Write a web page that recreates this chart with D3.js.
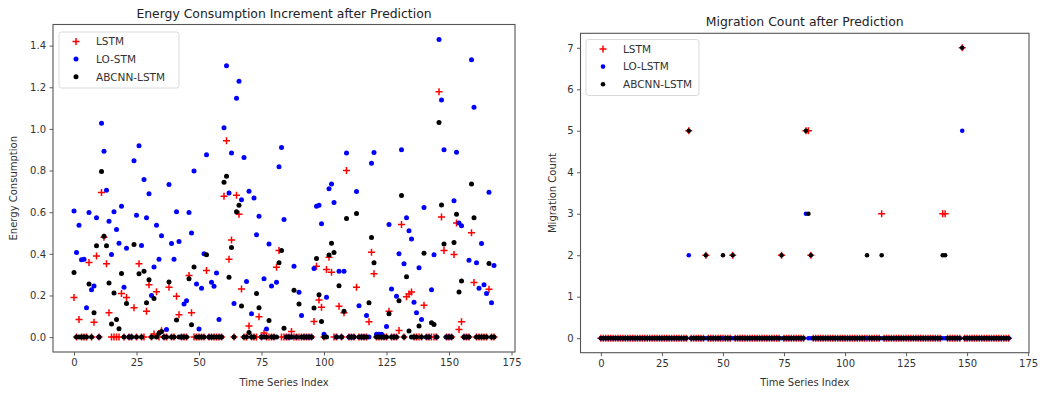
<!DOCTYPE html>
<html>
<head>
<meta charset="utf-8">
<script src="https://cdn.jsdelivr.net/npm/d3@7"></script>
<style>
  html, body { margin: 0; padding: 0; background: #fff; }
  svg { display: block; font-family: "DejaVu Sans", sans-serif; }
</style>
</head>
<body>
<svg id="chart" width="1056" height="395"></svg>
<script>
// ---------- DATA ----------
const energyLSTM = [
  0.19,0,0.085,0,0,0,0.358,0,0.071,0.389,
  0,0.694,0.48,0.352,0.117,0,0,0,0,0.21,
  0,0.19,0,0,0.141,0,0.352,0,0,0.124,
  0.252,0,0.015,0.218,0,0.03,0,0,0.24,0,
  0,0.196,0.108,0,0,0,0.296,0.117,0,0,
  0,0,0,0.32,0,0,0,0,0,0,
  0.676,0.943,0.374,0.467,0,0.681,0.59,0.231,0,0,
  0.053,0,0,0,0.098,0,0.02,0,0,0,
  0,0.336,0.416,0,0,0,0,0.027,0,0,
  0,0,0,0,0,0,0.075,0.34,0.178,0.143,
  0,0.325,0.384,0.312,0,0,0.148,0,0.117,0.8,
  0,0,0,0.24,0,0,0,0,0.074,0.408,
  0.304,0,0,0,0,0,0.124,0,0,0,
  0.032,0.541,0,0.194,0.207,0.217,0,0,0,0,
  0.153,0,0,0,0,0,1.178,0.577,0.416,0,
  0,0,0.397,0.548,0.037,0.074,0,0,0,0.501,
  0.262,0,0,0,0,0,0.23,0,0
];
const energyLOSTM = [
  0.606,0.406,0.537,0.371,0.374,0.141,0.598,0.228,0.246,0.573,
  0,1.027,0.893,0.705,0.556,0.397,0.602,0.517,0.451,0.628,
  0.239,0.427,0,0,0.847,0.585,0.919,0.44,0.757,0.573,
  0.689,0.2,0.337,0.537,0.374,0.487,0,0.037,0.733,0.45,
  0.374,0.602,0.459,0,0.159,0.175,0.598,0.5,0.798,0.255,
  0.039,0.235,0.4,0.876,0,0.263,0.244,0.308,0.085,0,
  1.006,1.303,0.692,0.884,0.162,1.147,1.229,0.66,0.863,0.267,
  0.7,0.112,0.668,0.492,0.58,0,0.28,0.039,0.447,0.246,
  0,0.263,0.818,0.911,0.565,0,0,0,0.34,0,
  0.215,0.104,0,0,0,0,0.329,0.628,0.633,0.545,
  0.014,0.191,0.712,0.736,0.647,0,0.316,0,0.316,0.884,
  0,0,0,0.699,0.151,0,0,0.104,0,0.835,
  0.887,0.014,0.014,0.014,0,0.051,0.541,0.231,0,0.196,
  0.4,0.9,0.352,0.573,0.511,0.471,0.167,0.117,0.333,0.085,
  0.623,0,0,0.228,0.395,0,1.43,1.139,0.9,0,
  0,0,0.655,0.888,0.548,0.535,0,0,0.369,1.332,
  1.104,0.357,0.235,0.45,0.252,0.21,0.696,0.165,0.344
];
const energyABCNN = [
  0.31,0,0,0,0,0,0.255,0,0.117,0.439,
  0,0.795,0.485,0.439,0.26,0.063,0.212,0.085,0.04,0.305,
  0,0.162,0,0,0.445,0,0.304,0,0.316,0.165,
  0.275,0,0.186,0,0.018,0.027,0,0,0.265,0,
  0,0.082,0,0,0,0,0.28,0.059,0.337,0,
  0,0,0,0.395,0,0,0,0,0,0,
  0.744,0.773,0.288,0.43,0,0.602,0.633,0.149,0,0,
  0.022,0,0,0.21,0.141,0,0,0,0.08,0,
  0,0,0.357,0.416,0.043,0,0,0,0.225,0,
  0.159,0,0,0,0,0,0.14,0.378,0.204,0.075,
  0,0,0.394,0.451,0.406,0,0.247,0,0.124,0.57,
  0,0,0,0.594,0,0,0,0,0.165,0.479,
  0.357,0,0,0,0,0,0.112,0,0,0,
  0.175,0.68,0,0.29,0.029,0,0,0,0.053,0,
  0.403,0,0,0.069,0.061,0,1.031,0.635,0.447,0,
  0,0,0.455,0.59,0.217,0.27,0,0,0,0.736,
  0.573,0,0,0,0,0,0.353,0,0
];

const migLSTM = [
  0,0,0,0,0,0,0,0,0,0,
  0,0,0,0,0,0,0,0,0,0,
  0,0,0,0,0,0,0,0,0,0,
  0,0,0,0,0,0,5,0,0,0,
  0,0,0,2,0,0,0,0,0,0,
  0,0,0,0,2,0,0,0,0,0,
  0,0,0,0,0,0,0,0,0,0,
  0,0,0,0,2,0,0,0,0,0,
  0,0,0,0,5,5,2,0,0,0,
  0,0,0,0,0,0,0,0,0,0,
  0,0,0,0,0,0,0,0,0,0,
  0,0,0,0,0,3,0,0,0,0,
  0,0,0,0,0,0,0,0,0,0,
  0,0,0,0,0,0,0,0,0,0,
  3,3,0,0,0,0,0,0,7,0,
  0,0,0,0,0,0,0,0,0,0,
  0,0,0,0,0,0,0,0
];
const migLOLSTM = [
  0,0,0,0,0,0,0,0,0,0,
  0,0,0,0,0,0,0,0,0,0,
  0,0,0,0,0,0,0,0,0,0,
  0,0,0,0,0,0,2,0,0,0,
  0,0,0,0,0,0,0,0,0,0,
  0,0,0,0,0,0,0,0,0,0,
  0,0,0,0,0,0,0,0,0,0,
  0,0,0,0,0,0,0,0,0,0,
  0,0,0,0,3,0,0,0,0,0,
  0,0,0,0,0,0,0,0,0,0,
  0,0,0,0,0,0,0,0,0,0,
  0,0,0,0,0,0,0,0,0,0,
  0,0,0,0,0,0,0,0,0,0,
  0,0,0,0,0,0,0,0,0,0,
  0,0,0,0,0,0,0,0,5,0,
  0,0,0,0,0,0,0,0,0,0,
  0,0,0,0,0,0,0,0
];
const migABCNN = [
  0,0,0,0,0,0,0,0,0,0,
  0,0,0,0,0,0,0,0,0,0,
  0,0,0,0,0,0,0,0,0,0,
  0,0,0,0,0,0,5,0,0,0,
  0,0,0,2,0,0,0,0,0,0,
  2,0,0,0,2,0,0,0,0,0,
  0,0,0,0,0,0,0,0,0,0,
  0,0,0,0,2,0,0,0,0,0,
  0,0,0,0,5,3,2,0,0,0,
  0,0,0,0,0,0,0,0,0,0,
  0,0,0,0,0,0,0,0,0,2,
  0,0,0,0,0,2,0,0,0,0,
  0,0,0,0,0,0,0,0,0,0,
  0,0,0,0,0,0,0,0,0,0,
  2,2,0,0,0,0,0,0,7,0,
  0,0,0,0,0,0,0,0,0,0,
  0,0,0,0,0,0,0,0
];

const xTicks = [0, 25, 50, 75, 100, 125, 150, 175];
const energyTicks = [0, 0.2, 0.4, 0.6, 0.8, 1.0, 1.2, 1.4];
const migTicks = [0, 1, 2, 3, 4, 5, 6, 7];

const leftTitle = "Energy Consumption Increment after Prediction";
const rightTitle = "Migration Count after Prediction";
const leftLegend = ["LSTM", "LO-STM", "ABCNN-LSTM"];
const rightLegend = ["LSTM", "LO-LSTM", "ABCNN-LSTM"];

// ---------- DRAW ----------
const svg = d3.select("#chart");
const colors = ["#ff0000", "#0000ff", "#000000"];
const shapes = ["plus", "dot", "dot"];

function padded(lo, hi) {
  const m = (hi - lo) * 0.05;
  return [lo - m, hi + m];
}

function panel(cfg) {
  const g = svg.append("g");
  const n = d3.max(cfg.series, s => s.length) - 1;
  const ymax = d3.max(cfg.series, s => d3.max(s));
  const x = d3.scaleLinear().domain(padded(0, n)).range([cfg.left, cfg.right]);
  const y = d3.scaleLinear().domain(padded(0, ymax)).range([cfg.bottom, cfg.top]);

  // points
  cfg.series.forEach((s, k) => {
    const sg = g.append("g");
    const pts = s.map((v, i) => [i, v]);
    if (shapes[k] === "plus") {
      const h = cfg.plus;
      sg.selectAll("path").data(pts).join("path")
        .attr("d", d => `M${x(d[0]) - h},${y(d[1])}H${x(d[0]) + h}M${x(d[0])},${y(d[1]) - h}V${y(d[1]) + h}`)
        .attr("stroke", colors[k]).attr("stroke-width", 1.5).attr("fill", "none");
    } else {
      sg.selectAll("circle").data(pts).join("circle")
        .attr("cx", d => x(d[0])).attr("cy", d => y(d[1]))
        .attr("r", cfg.r).attr("fill", colors[k]);
    }
  });

  // axes
  const xa = g.append("g").attr("transform", `translate(0,${cfg.bottom})`)
    .call(d3.axisBottom(x).tickValues(xTicks).tickSize(3.5).tickPadding(3.5).tickSizeOuter(0));
  const ya = g.append("g").attr("transform", `translate(${cfg.left},0)`)
    .call(d3.axisLeft(y).tickValues(cfg.yTicks).tickFormat(cfg.yFormat).tickSize(3.5).tickPadding(3.5).tickSizeOuter(0));
  [xa, ya].forEach(a => {
    a.select(".domain").remove();
    a.selectAll("line").attr("stroke", "#333").attr("stroke-width", 0.8);
    a.selectAll("text").attr("fill", "#333").style("font-size", "10px")
      .style("font-family", "'DejaVu Sans', sans-serif");
  });

  // frame
  g.append("rect").attr("x", cfg.left).attr("y", cfg.top)
    .attr("width", cfg.right - cfg.left).attr("height", cfg.bottom - cfg.top)
    .attr("fill", "none").attr("stroke", "#555").attr("stroke-width", 1.1);

  // title & labels
  g.append("text").attr("x", (cfg.left + cfg.right) / 2).attr("y", cfg.titleY)
    .attr("text-anchor", "middle").attr("fill", "#222").style("font-size", "12.4px").text(cfg.title);
  g.append("text").attr("x", (cfg.left + cfg.right) / 2).attr("y", 386)
    .attr("text-anchor", "middle").attr("fill", "#333").style("font-size", "10px").text("Time Series Index");
  g.append("text")
    .attr("transform", `translate(${cfg.ylabelX},${(cfg.top + cfg.bottom) / 2}) rotate(-90)`)
    .attr("text-anchor", "middle").attr("fill", "#333").style("font-size", "10px").text(cfg.ylabel);

  // legend
  const lg = g.append("g");
  lg.append("rect").attr("x", cfg.leg.x).attr("y", cfg.leg.y)
    .attr("width", cfg.leg.w).attr("height", cfg.leg.h).attr("rx", 2.5)
    .attr("fill", "#fff").attr("fill-opacity", 0.85).attr("stroke", "#d6d6d6").attr("stroke-width", 0.9);
  cfg.legendLabels.forEach((lab, k) => {
    const cy = cfg.leg.y + 9.5 + k * 17.6;
    const mx = cfg.leg.x + 17;
    if (shapes[k] === "plus") {
      const h = cfg.plus;
      lg.append("path").attr("d", `M${mx - h},${cy}H${mx + h}M${mx},${cy - h}V${cy + h}`)
        .attr("stroke", colors[k]).attr("stroke-width", 1.5);
    } else {
      lg.append("circle").attr("cx", mx).attr("cy", cy).attr("r", cfg.r).attr("fill", colors[k]);
    }
    lg.append("text").attr("x", cfg.leg.x + 37).attr("y", cy + 3.8)
      .attr("fill", "#333").style("font-size", "10.5px").text(lab);
  });
}

panel({
  series: [energyLSTM, energyLOSTM, energyABCNN],
  left: 53, right: 515, top: 24.5, bottom: 352,
  yTicks: energyTicks, yFormat: d3.format(".1f"),
  title: leftTitle, titleY: 18, ylabel: "Energy Consumption", ylabelX: 17,
  legendLabels: leftLegend, leg: { x: 59, y: 32, w: 120, h: 56 },
  r: 2.5, plus: 3.5
});

panel({
  series: [migLSTM, migLOLSTM, migABCNN],
  left: 580.5, right: 1029, top: 33.3, bottom: 352.7,
  yTicks: migTicks, yFormat: d3.format("d"),
  title: rightTitle, titleY: 26, ylabel: "Migration Count", ylabelX: 556,
  legendLabels: rightLegend, leg: { x: 586, y: 39.5, w: 113, h: 56 },
  r: 2.3, plus: 3.5
});
</script>
</body>
</html>
